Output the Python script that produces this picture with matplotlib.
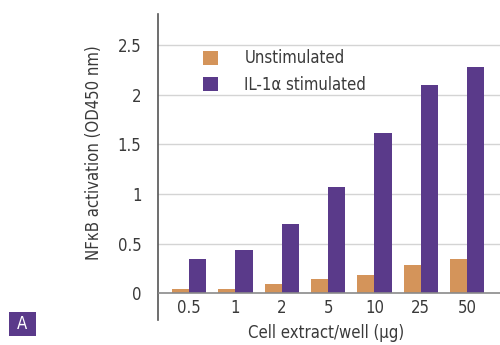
import matplotlib.pyplot as plt
from matplotlib.patches import FancyBboxPatch
import numpy as np

plt.rcParams['font.family'] = ['DejaVu Sans']
plt.rcParams['font.stretch'] = 'condensed'

# datos
dosis = ['0.5', '1', '2', '5', '10', '25', '50']
sin_estimulo = [0.04, 0.04, 0.09, 0.14, 0.18, 0.29, 0.35]
il1a = [0.35, 0.44, 0.70, 1.07, 1.61, 2.10, 2.28]
y_ticks = [0, 0.5, 1, 1.5, 2, 2.5]
y_labels = ['0', '0.5', '1', '1.5', '2', '2.5']

NARANJA = '#D4945A'
MORADO = '#5A3A8A'
GRIS_TXT = '#3a3a3a'

fig = plt.figure(figsize=(5.0, 3.45), dpi=100)
ax = fig.add_axes([0.316, 0.072, 0.684, 0.887])

x = np.arange(len(dosis))
w = 0.37
ax.bar(x - w / 2, sin_estimulo, w, color=NARANJA, label='Unstimulated', zorder=3)
ax.bar(x + w / 2, il1a, w, color=MORADO, label='IL-1α stimulated', zorder=3)

ax.set_xlim(-0.67, 6.71)
ax.set_ylim(-0.27, 2.81)

# rejilla y línea de cero
for yv in y_ticks[1:]:
    ax.axhline(yv, color='#d4d4d4', lw=1.0, zorder=1)
ax.axhline(0, color='#8a8a8a', lw=1.2, zorder=4)

for s in ['top', 'right', 'bottom']:
    ax.spines[s].set_visible(False)
ax.spines['left'].set_color('#555555')
ax.spines['left'].set_linewidth(1.2)

ax.set_yticks(y_ticks)
ax.set_yticklabels(y_labels, fontsize=12, color=GRIS_TXT)
ax.tick_params(axis='y', length=0, pad=12)
ax.set_xticks([])

for xi, lab in zip(x, dosis):
    ax.text(xi, -0.15, lab, ha='center', va='center', fontsize=12, color=GRIS_TXT)

fig.text(0.188, 0.559, 'NFκB activation (OD450 nm)', rotation=90, ha='center',
         va='center', fontsize=12, color=GRIS_TXT)
fig.text(0.652, 0.035, 'Cell extract/well (μg)', ha='center', va='center',
         fontsize=12, color=GRIS_TXT)

ax.legend(loc='upper left', bbox_to_anchor=(0.087, 0.934), frameon=False, fontsize=12,
          handlelength=0.9, handleheight=0.9, handletextpad=1.6, labelspacing=0.5,
          labelcolor=GRIS_TXT)

# recuadro "A"
caja = FancyBboxPatch((0.018, 0.025), 0.054, 0.07, boxstyle='square,pad=0',
                      transform=fig.transFigure, facecolor=MORADO, edgecolor='none')
fig.patches.append(caja)
fig.text(0.045, 0.06, 'A', ha='center', va='center', color='white', fontsize=12)

fig.savefig('out.png', dpi=100)
